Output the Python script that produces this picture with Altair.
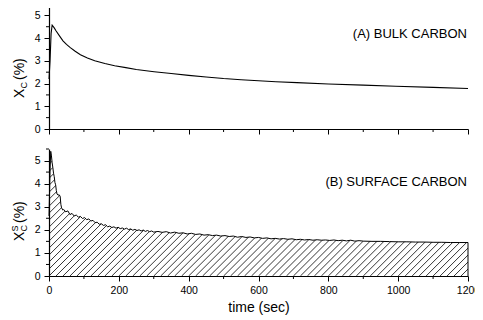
import altair as alt
import numpy as np
import pandas as pd

# ---------------- data ----------------
bulk_t = [0, 3, 6, 9, 15, 20, 30, 40, 50, 61, 75, 90, 110, 131, 160, 188, 220, 250,
          301, 350, 400, 450, 500, 550, 600, 650, 710, 800, 900, 993, 1100, 1200]
bulk_v = [2.2, 3.0, 4.2, 4.57, 4.45, 4.32, 4.1, 3.88, 3.72, 3.58, 3.42, 3.27, 3.12, 3.0,
          2.88, 2.78, 2.70, 2.62, 2.52, 2.44, 2.36, 2.29, 2.22, 2.17, 2.12, 2.08, 2.04,
          1.98, 1.93, 1.88, 1.83, 1.78]

surf_t = ([0, 3, 5, 7, 9, 11, 13, 15, 17, 19, 21, 23, 26, 29, 32, 34, 36, 38, 40]
          + list(range(42, 301, 6)) + list(range(312, 901, 12)) + list(range(925, 1201, 25)))
surf_v = [2.6, 4.6, 5.4, 5.2, 4.9, 4.7, 4.45, 4.3, 4.05, 3.95, 3.7, 3.55, 3.5, 3.52, 3.45,
          3.1, 2.95, 2.9, 2.85,
          # 42 .. 300 step 6
          2.88, 2.78, 2.82, 2.66, 2.71, 2.60, 2.64, 2.55, 2.58, 2.49, 2.53, 2.44, 2.47, 2.38,
          2.41, 2.31, 2.33, 2.24, 2.26, 2.19, 2.22, 2.13, 2.16, 2.10, 2.13, 2.07, 2.11, 2.05,
          2.08, 2.03, 2.07, 2.01, 2.04, 1.98, 2.02, 1.97, 2.00, 1.95, 1.99, 1.93, 1.97, 1.92,
          1.95, 1.90,
          # 312 .. 900 step 12
          1.93, 1.89, 1.92, 1.86, 1.90, 1.85, 1.87, 1.82, 1.85, 1.80, 1.82, 1.77, 1.79, 1.75,
          1.77, 1.73, 1.75, 1.71, 1.73, 1.68, 1.71, 1.67, 1.69, 1.65, 1.67, 1.63, 1.65, 1.61,
          1.63, 1.60, 1.62, 1.59, 1.61, 1.57, 1.59, 1.56, 1.58, 1.55, 1.57, 1.55, 1.56, 1.54,
          1.56, 1.53, 1.55, 1.52, 1.55, 1.51, 1.53, 1.51,
          # 925 .. 1200 step 25
          1.50, 1.50, 1.49, 1.48, 1.48, 1.47, 1.47, 1.46, 1.46, 1.45, 1.45, 1.45]

x_major = [0, 200, 400, 600, 800, 1000, 1200]
x_minor = [100, 300, 500, 700, 900, 1100]
y_major = [0, 1, 2, 3, 4, 5]
y_minor = [0.5, 1.5, 2.5, 3.5, 4.5, 5.5]

label_a = "(A) BULK CARBON"
label_b = "(B) SURFACE CARBON"
x_title = "time (sec)"

# ---------------- layout ----------------
W = 419
H_TOP = 125
H_BOT = 127
FONT = "Liberation Sans"

bulk = pd.DataFrame({"t": bulk_t, "v": bulk_v})
surf = pd.DataFrame({"t": surf_t, "v": surf_v})
xmin_df = pd.DataFrame({"t": x_minor})
ymin_df = pd.DataFrame({"v": y_minor})

xs = alt.Scale(domain=[0, 1200], nice=False, zero=False)
ys = alt.Scale(domain=[0, 5.5], nice=False)

common_axis = dict(grid=False, domainColor="black", tickColor="black", labelColor="black",
                   domainWidth=1.2, tickWidth=1, tickSize=5, labelFont=FONT, labelFontSize=10.5,
                   titleFont=FONT, titleColor="black", titleFontWeight="normal", zindex=1)
ax_x_top = alt.Axis(values=x_major, labels=False, title=None, **common_axis)
ax_x_bot = alt.Axis(values=x_major, title=x_title, titleFontSize=14, labelPadding=4,
                    titlePadding=5, labelOverlap=False, labelFlush=False, format="d",
                    **common_axis)
ax_y = alt.Axis(values=y_major, title=None, labelPadding=4, format="d", **common_axis)


def minor_ticks(h, ax_x):
    mx = alt.Chart(xmin_df).mark_rule(color="black", strokeWidth=1).encode(
        x=alt.X("t:Q", scale=xs, axis=ax_x), y=alt.value(h), y2=alt.value(h + 3))
    my = alt.Chart(ymin_df).mark_rule(color="black", strokeWidth=1).encode(
        y=alt.Y("v:Q", scale=ys, axis=ax_y), x=alt.value(0), x2=alt.value(-3))
    return [mx, my]


def ytitle(pieces):
    out = []
    for txt, size, dx, dy in pieces:
        out.append(alt.Chart(pd.DataFrame({"s": [txt]})).mark_text(
            angle=270, align="left", baseline="alphabetic", font=FONT, fontSize=size,
            color="black").encode(text="s:N", x=alt.value(dx), y=alt.value(dy)))
    return out


def panel_label(txt, dy):
    return alt.Chart(pd.DataFrame({"s": [txt]})).mark_text(
        align="right", baseline="alphabetic", font=FONT, fontSize=13, color="black"
    ).encode(text="s:N", x=alt.value(W - 1), y=alt.value(dy))


# ---------------- top panel ----------------
top_line = alt.Chart(bulk).mark_line(color="black", strokeWidth=1.1).encode(
    x=alt.X("t:Q", scale=xs, axis=ax_x_top), y=alt.Y("v:Q", scale=ys, axis=ax_y))
top = alt.layer(
    top_line, panel_label(label_a, 33.5),
    *ytitle([("X", 14, -25, 94), ("C", 9, -22, 84.5), ("(%)", 14, -25, 76)]),
    *minor_ticks(H_TOP, ax_x_top),
).properties(width=W, height=H_TOP)

# ---------------- bottom panel ----------------
t0 = np.arange(-380, 1200, 20)
hatch = pd.DataFrame({"a": t0, "b": t0 + 364, "y0": 0.0, "y1": 5.5})
hatch_layer = alt.Chart(hatch).mark_rule(color="black", strokeWidth=0.8, clip=True).encode(
    x=alt.X("a:Q", scale=xs, axis=ax_x_bot), x2="b:Q",
    y=alt.Y("y0:Q", scale=ys, axis=ax_y), y2="y1:Q")
mask = alt.Chart(surf).mark_area(color="white", opacity=1, clip=True).encode(
    x=alt.X("t:Q", scale=xs, axis=ax_x_bot), y=alt.Y("v:Q", scale=ys, axis=ax_y),
    y2=alt.datum(5.5))
bot_line = alt.Chart(surf).mark_line(color="black", strokeWidth=1).encode(
    x=alt.X("t:Q", scale=xs, axis=ax_x_bot), y=alt.Y("v:Q", scale=ys, axis=ax_y))
edge = alt.Chart(pd.DataFrame({"t": [surf_t[-1]], "z": [0.0], "v": [surf_v[-1]]})).mark_rule(
    color="black", strokeWidth=1).encode(
    x=alt.X("t:Q", scale=xs, axis=ax_x_bot), y=alt.Y("z:Q", scale=ys, axis=ax_y), y2="v:Q")
bot = alt.layer(
    hatch_layer, mask, bot_line, edge, panel_label(label_b, 37),
    *ytitle([("X", 14, -25, 92), ("C", 9, -22, 82.5), ("S", 9, -31, 82.5), ("(%)", 14, -25, 74)]),
    *minor_ticks(H_BOT, ax_x_bot),
).properties(width=W, height=H_BOT)

chart = alt.vconcat(top, bot, spacing=13).configure_view(stroke=None).properties(
    padding={"left": 3, "top": -5, "right": -5, "bottom": 0})

chart.save("out.html", embed_options={"renderer": "svg", "actions": False})
